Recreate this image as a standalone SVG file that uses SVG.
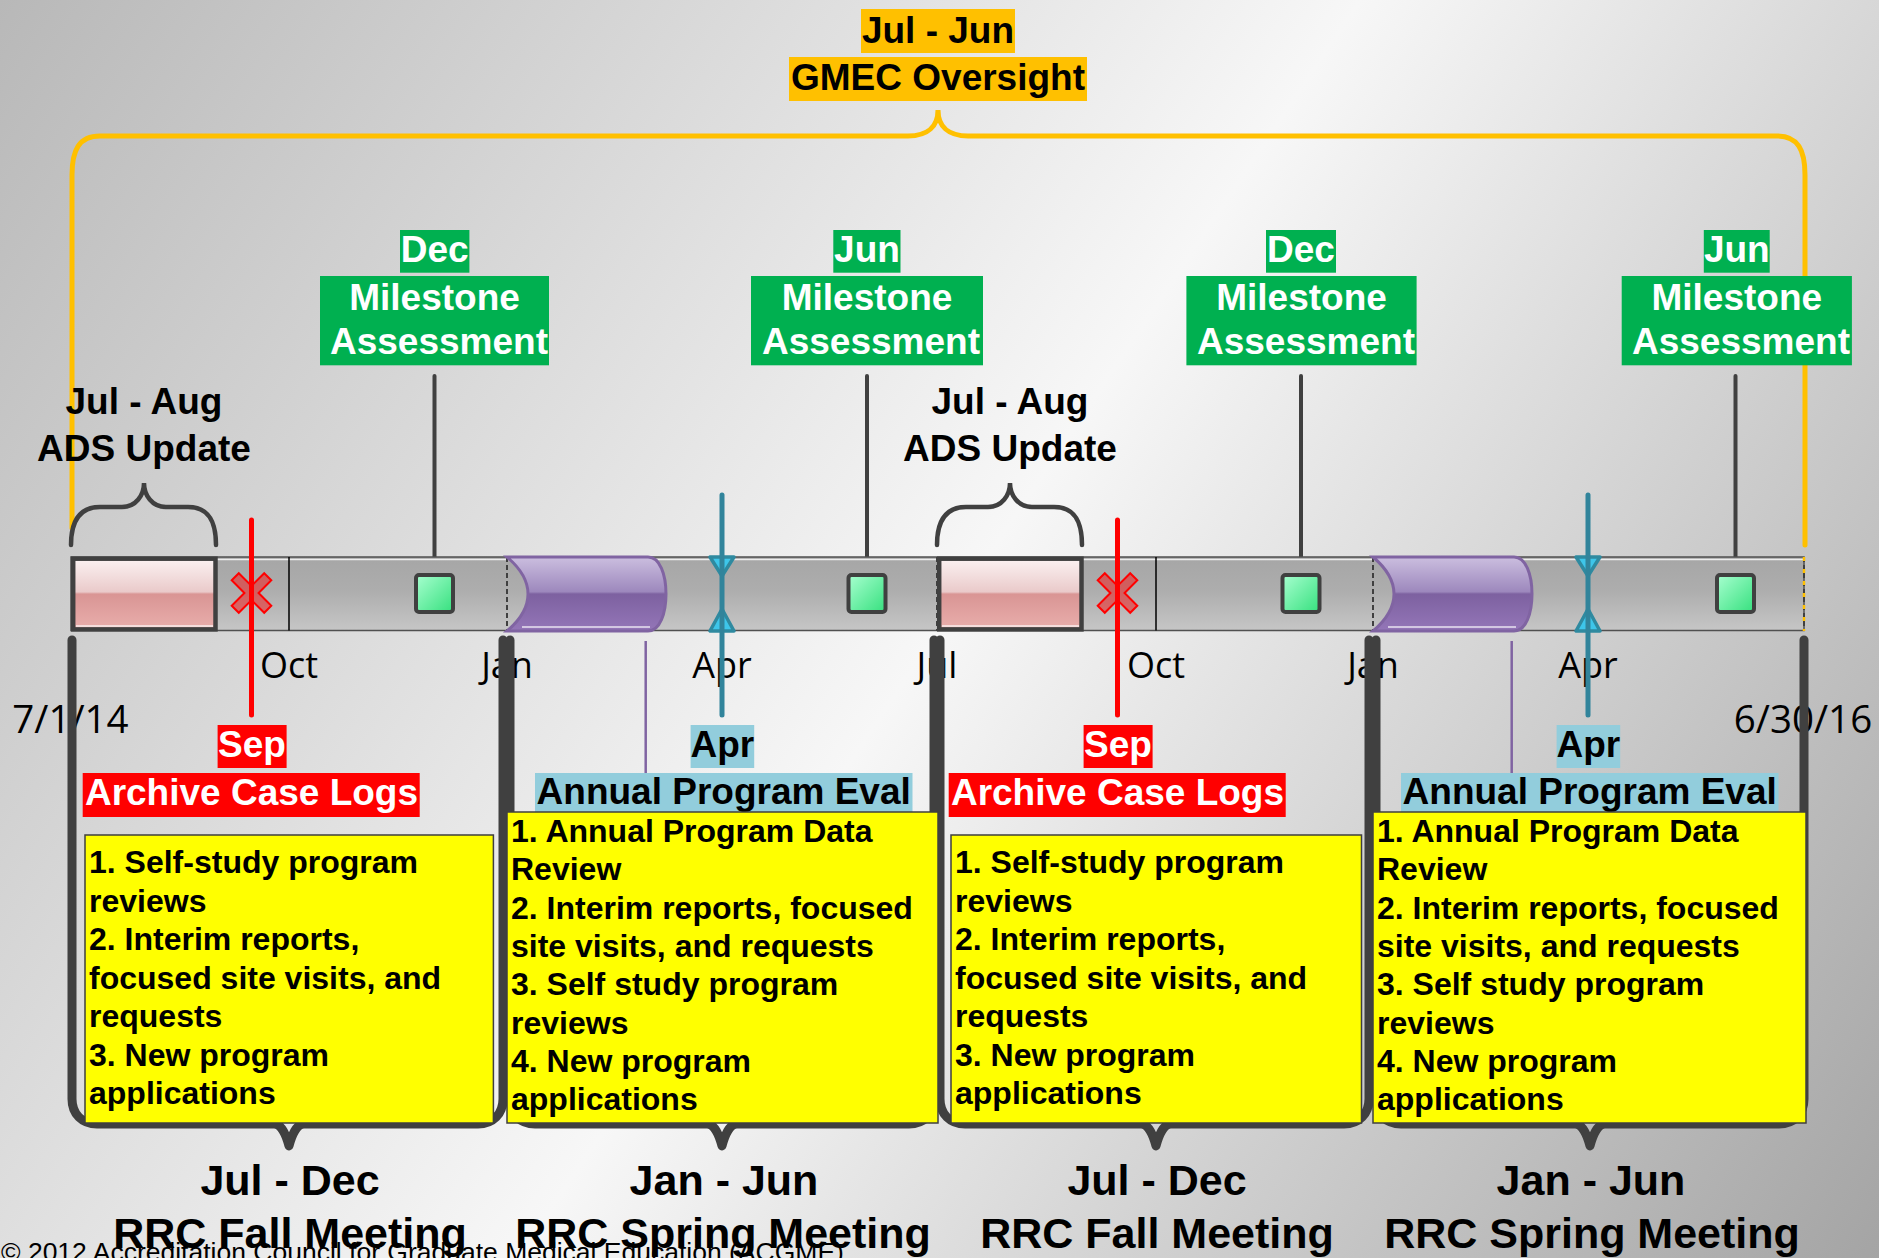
<svg xmlns="http://www.w3.org/2000/svg" width="1879" height="1258" viewBox="0 0 1879 1258">
<defs>
<linearGradient id="bg" gradientUnits="userSpaceOnUse" x1="0" y1="0" x2="1879" y2="1258">
<stop offset="0" stop-color="#b8b8b8"/><stop offset="0.5" stop-color="#f7f7f7"/><stop offset="1" stop-color="#a4a4a4"/>
</linearGradient>
<linearGradient id="barg" x1="0" y1="0" x2="0" y2="1">
<stop offset="0" stop-color="#a6a6a6"/><stop offset="0.45" stop-color="#adadad"/><stop offset="1" stop-color="#c6c6c6"/>
</linearGradient>
<linearGradient id="pink" x1="0" y1="0" x2="0" y2="1">
<stop offset="0" stop-color="#fbf2f2"/><stop offset="0.47" stop-color="#eacaca"/><stop offset="0.5" stop-color="#d99594"/><stop offset="1" stop-color="#e9aeac"/>
</linearGradient>
<linearGradient id="purp" x1="0" y1="0" x2="0" y2="1">
<stop offset="0" stop-color="#cbbedf"/><stop offset="0.47" stop-color="#9d88bd"/><stop offset="0.5" stop-color="#7d61a0"/><stop offset="1" stop-color="#9476b8"/>
</linearGradient>
<linearGradient id="grn" x1="0" y1="0" x2="1" y2="1">
<stop offset="0" stop-color="#a8ffd0"/><stop offset="1" stop-color="#36e07e"/>
</linearGradient>
<style>
.b{font-family:"Liberation Sans",Arial,sans-serif;font-weight:bold}
.c{text-anchor:middle}
.f37{font-size:37px}
.w{fill:#fff}
.k{fill:#000}
.mon{font-family:"Open Sans",sans-serif;font-size:36px;text-anchor:middle;fill:#000}
.date{font-family:"Open Sans",sans-serif;font-size:38.5px;text-anchor:middle;fill:#000}
.yl{font-family:"Liberation Sans",Arial,sans-serif;font-weight:bold;font-size:32px;fill:#000}
.bot{font-family:"Liberation Sans",Arial,sans-serif;font-weight:bold;font-size:43px;fill:#000;text-anchor:middle}
.bk{fill:none;stroke:#404040;stroke-width:9;stroke-linecap:round;stroke-linejoin:round}
.stem{stroke:#404040;stroke-width:4;stroke-linecap:round}
.brace{fill:none;stroke:#404040;stroke-width:4.5;stroke-linecap:round}
.ybox{fill:#ffff00;stroke:#3f3f3f;stroke-width:1.5}
.gbox{fill:#00b050}
.obox{fill:#ffc000}
.rbox{fill:#ff0000}
.abox{fill:#92cddc}
.gsq{fill:url(#grn);stroke:#404040;stroke-width:4}
.pinkb{fill:url(#pink);stroke:#404040;stroke-width:4.5}
.cyl{fill:url(#purp);stroke:#8064a2;stroke-width:3}
.dash{stroke:#404040;stroke-width:2;stroke-dasharray:5 3}
.thin{stroke:#000;stroke-width:1.5}
.redl{stroke:#ff0000;stroke-width:5;stroke-linecap:round}
.xs{fill:#ff0000;fill-opacity:0.45;stroke:#ff0000;stroke-width:2}
.teal{stroke:#31849b;stroke-width:5;stroke-linecap:round}
.tri{fill:#3ec6ea;stroke:#2f8aa0;stroke-width:3.5;stroke-linejoin:round}
.pl{stroke:#8064a2;stroke-width:2.5}
.hl{stroke:#ffffff;stroke-width:1.5;opacity:0.8}
</style>
</defs>
<rect x="0" y="0" width="1879" height="1258" fill="url(#bg)"/>

<g id="connectors">
<path id="gmec-brace" d="M72,528 L72,175 C72,150 79,136 100,136 L908,136 C928,136 938,126 938,110 C938,126 948,136 968,136 L1777,136 C1798,136 1805,150 1805,175 L1805,545" fill="none" stroke="#ffc000" stroke-width="5" stroke-linecap="round"/>
<line class="stem" x1="434.5" y1="376" x2="434.5" y2="575"/>
<line class="stem" x1="867" y1="376" x2="867" y2="575"/>
<line class="stem" x1="1301" y1="376" x2="1301" y2="575"/>
<line class="stem" x1="1735.5" y1="376" x2="1735.5" y2="575"/>
</g>

<g id="timeline">
<rect x="71" y="557" width="1733" height="73.5" fill="url(#barg)" stroke="#505050" stroke-width="1.5"/>
<line class="hl" x1="72" y1="559.5" x2="1803" y2="559.5"/>
<line class="thin" x1="289" y1="557" x2="289" y2="630.5"/>
<line class="thin" x1="1156" y1="557" x2="1156" y2="630.5"/>
<line class="dash" x1="507" y1="557" x2="507" y2="631"/>
<line class="dash" x1="937" y1="557" x2="937" y2="631"/>
<line class="dash" x1="1373" y1="557" x2="1373" y2="631"/>
<line class="dash" x1="1804" y1="557" x2="1804" y2="631"/>
<line x1="1804" y1="557" x2="1804" y2="631" stroke="#ffc000" stroke-width="2.5" stroke-dasharray="4 8"/>
</g>

<g id="ads-block-1">
<rect class="pinkb" x="73.2" y="558.7" width="142.3" height="70.7"/>
<line class="hl" x1="76" y1="626" x2="213" y2="626"/>
</g>
<g id="ads-block-2">
<rect class="pinkb" x="939.2" y="558.7" width="142.3" height="70.7"/>
<line class="hl" x1="942" y1="626" x2="1079" y2="626"/>
</g>

<g id="ape-block-1">
<path class="cyl" d="M507,557 L648,557 C660,557 666,575 666,594 C666,613 660,631 648,631 L507,631 C520,620 528,607 528,594 C528,581 520,568 507,557 Z"/>
<line class="hl" x1="522" y1="627" x2="650" y2="627"/>
</g>
<g id="ape-block-2">
<path class="cyl" d="M1373,557 L1514,557 C1526,557 1532,575 1532,594 C1532,613 1526,631 1514,631 L1373,631 C1386,620 1394,607 1394,594 C1394,581 1386,568 1373,557 Z"/>
<line class="hl" x1="1388" y1="627" x2="1516" y2="627"/>
</g>

<g id="month-labels">
<text class="mon" x="289" y="678">Oct</text>
<text class="mon" x="507" y="678">Jan</text>
<text class="mon" x="722" y="678">Apr</text>
<text class="mon" x="937" y="678">Jul</text>
<text class="mon" x="1156" y="678">Oct</text>
<text class="mon" x="1373" y="678">Jan</text>
<text class="mon" x="1588" y="678">Apr</text>
<text class="date" x="70.5" y="733">7/1/14</text>
<text class="date" x="1803" y="733">6/30/16</text>
</g>

<g id="rrc-brackets">
<path class="bk" d="M72,640 L72,1099 C72,1114 82,1124 97,1124 L274,1124 C281,1124 286,1134 289,1146 C292,1134 297,1124 304,1124 L478,1124 C493,1124 503,1114 503,1099 L503,640"/>
<path class="bk" d="M510,640 L510,1099 C510,1114 520,1124 535,1124 L707,1124 C714,1124 719,1134 722,1146 C725,1134 730,1124 737,1124 L909,1124 C924,1124 934,1114 934,1099 L934,640"/>
<path class="bk" d="M940,640 L940,1099 C940,1114 950,1124 965,1124 L1141,1124 C1148,1124 1153,1134 1156,1146 C1159,1134 1164,1124 1171,1124 L1344,1124 C1359,1124 1369,1114 1369,1099 L1369,640"/>
<path class="bk" d="M1376,640 L1376,1099 C1376,1114 1386,1124 1401,1124 L1575,1124 C1582,1124 1587,1134 1590,1146 C1593,1134 1598,1124 1605,1124 L1779,1124 C1794,1124 1804,1114 1804,1099 L1804,640"/>
</g>

<g id="milestone-1">
<rect class="gsq" x="416" y="575" width="37" height="37" rx="3"/>
<rect class="gbox" x="400" y="230" width="69.4" height="42.7"/>
<rect class="gbox" x="320" y="276" width="229" height="89.3"/>
<text class="b c f37 w" x="434.7" y="262">Dec</text>
<text class="b c f37 w" x="434.5" y="310">Milestone</text>
<text class="b c f37 w" x="439" y="354">Assessment</text>
</g>
<g id="milestone-2">
<rect class="gsq" x="848.5" y="575" width="37" height="37" rx="3"/>
<rect class="gbox" x="833.3" y="230" width="67.2" height="42.7"/>
<rect class="gbox" x="751" y="276" width="232" height="89.3"/>
<text class="b c f37 w" x="867" y="262">Jun</text>
<text class="b c f37 w" x="867" y="310">Milestone</text>
<text class="b c f37 w" x="871" y="354">Assessment</text>
</g>
<g id="milestone-3">
<rect class="gsq" x="1282.5" y="575" width="37" height="37" rx="3"/>
<rect class="gbox" x="1266" y="230" width="70" height="42.7"/>
<rect class="gbox" x="1186.4" y="276" width="230.2" height="89.3"/>
<text class="b c f37 w" x="1301" y="262">Dec</text>
<text class="b c f37 w" x="1301.5" y="310">Milestone</text>
<text class="b c f37 w" x="1306" y="354">Assessment</text>
</g>
<g id="milestone-4">
<rect class="gsq" x="1717" y="575" width="37" height="37" rx="3"/>
<rect class="gbox" x="1703.8" y="230" width="65.9" height="42.7"/>
<rect class="gbox" x="1621.7" y="276" width="230.2" height="89.3"/>
<text class="b c f37 w" x="1736.8" y="262">Jun</text>
<text class="b c f37 w" x="1736.8" y="310">Milestone</text>
<text class="b c f37 w" x="1741" y="354">Assessment</text>
</g>

<g id="ads-update-1">
<path class="brace" d="M71,545 C71,520 80,507 100,507 L122,507 C136,507 144,495 144,483 C144,495 152,507 166,507 L188,507 C208,507 216,520 216,545"/>
<text class="b c f37 k" x="144" y="414">Jul - Aug</text>
<text class="b c f37 k" x="144" y="461">ADS Update</text>
</g>
<g id="ads-update-2">
<path class="brace" d="M937,545 C937,520 946,507 966,507 L988,507 C1002,507 1010,495 1010,483 C1010,495 1018,507 1032,507 L1054,507 C1074,507 1082,520 1082,545"/>
<text class="b c f37 k" x="1010" y="414">Jul - Aug</text>
<text class="b c f37 k" x="1010" y="461">ADS Update</text>
</g>

<g id="archive-1">
<line class="pl" x1="645.7" y1="641" x2="645.7" y2="773"/>
<polygon class="xs" transform="translate(251.5,593) rotate(45)" points="-5,-23 5,-23 5,-5 23,-5 23,5 5,5 5,23 -5,23 -5,5 -23,5 -23,-5 -5,-5"/>
<line class="redl" x1="251.5" y1="520" x2="251.5" y2="715"/>
<rect class="rbox" x="217.6" y="725" width="69" height="43"/>
<rect class="rbox" x="82.7" y="773" width="337" height="44"/>
<text class="b c f37 w" x="252" y="757">Sep</text>
<text class="b c f37 w" x="251.5" y="805">Archive Case Logs</text>
</g>
<g id="archive-2">
<line class="pl" x1="1511.7" y1="641" x2="1511.7" y2="773"/>
<polygon class="xs" transform="translate(1117.5,593) rotate(45)" points="-5,-23 5,-23 5,-5 23,-5 23,5 5,5 5,23 -5,23 -5,5 -23,5 -23,-5 -5,-5"/>
<line class="redl" x1="1117.5" y1="520" x2="1117.5" y2="715"/>
<rect class="rbox" x="1083.6" y="725" width="69" height="43"/>
<rect class="rbox" x="948.7" y="773" width="337" height="44"/>
<text class="b c f37 w" x="1118" y="757">Sep</text>
<text class="b c f37 w" x="1117.5" y="805">Archive Case Logs</text>
</g>

<g id="eval-1">
<path class="tri" d="M710,557 L734,557 L722,576 Z"/>
<path class="tri" d="M710,631 L734,631 L722,609 Z"/>
<line class="teal" x1="722" y1="495" x2="722" y2="715"/>
<rect class="abox" x="690.6" y="725" width="63.6" height="43"/>
<rect class="abox" x="535" y="773" width="377.5" height="40"/>
<text class="b c f37 k" x="722.4" y="757">Apr</text>
<text class="b c f37 k" x="723.7" y="804">Annual Program Eval</text>
</g>
<g id="eval-2">
<path class="tri" d="M1576,557 L1600,557 L1588,576 Z"/>
<path class="tri" d="M1576,631 L1600,631 L1588,609 Z"/>
<line class="teal" x1="1588" y1="495" x2="1588" y2="715"/>
<rect class="abox" x="1556.6" y="725" width="63.6" height="43"/>
<rect class="abox" x="1401" y="773" width="377.5" height="40"/>
<text class="b c f37 k" x="1588.4" y="757">Apr</text>
<text class="b c f37 k" x="1589.7" y="804">Annual Program Eval</text>
</g>

<g id="fall-1">
<rect class="ybox" x="85" y="835" width="408.4" height="288"/>
<text class="yl" x="89"><tspan x="89" y="873">1. Self-study program</tspan><tspan x="89" y="911.5">reviews</tspan><tspan x="89" y="950">2. Interim reports,</tspan><tspan x="89" y="988.5">focused site visits, and</tspan><tspan x="89" y="1027">requests</tspan><tspan x="89" y="1065.5">3. New program</tspan><tspan x="89" y="1104">applications</tspan></text>
<text class="bot" x="290" y="1195">Jul - Dec</text>
<text class="bot" x="290" y="1248">RRC Fall Meeting</text>
</g>
<g id="spring-1">
<rect class="ybox" x="507" y="812" width="431" height="311"/>
<text class="yl" x="511"><tspan x="511" y="842">1. Annual Program Data</tspan><tspan x="511" y="880.3">Review</tspan><tspan x="511" y="918.6">2. Interim reports, focused</tspan><tspan x="511" y="956.9">site visits, and requests</tspan><tspan x="511" y="995.2">3. Self study program</tspan><tspan x="511" y="1033.5">reviews</tspan><tspan x="511" y="1071.8">4. New program</tspan><tspan x="511" y="1110.1">applications</tspan></text>
<text class="bot" x="724" y="1195">Jan - Jun</text>
<text class="bot" x="723" y="1248">RRC Spring Meeting</text>
</g>
<g id="fall-2">
<rect class="ybox" x="951" y="835" width="410.5" height="288"/>
<text class="yl" x="955"><tspan x="955" y="873">1. Self-study program</tspan><tspan x="955" y="911.5">reviews</tspan><tspan x="955" y="950">2. Interim reports,</tspan><tspan x="955" y="988.5">focused site visits, and</tspan><tspan x="955" y="1027">requests</tspan><tspan x="955" y="1065.5">3. New program</tspan><tspan x="955" y="1104">applications</tspan></text>
<text class="bot" x="1157" y="1195">Jul - Dec</text>
<text class="bot" x="1157" y="1248">RRC Fall Meeting</text>
</g>
<g id="spring-2">
<rect class="ybox" x="1373" y="812" width="433" height="311"/>
<text class="yl" x="1377"><tspan x="1377" y="842">1. Annual Program Data</tspan><tspan x="1377" y="880.3">Review</tspan><tspan x="1377" y="918.6">2. Interim reports, focused</tspan><tspan x="1377" y="956.9">site visits, and requests</tspan><tspan x="1377" y="995.2">3. Self study program</tspan><tspan x="1377" y="1033.5">reviews</tspan><tspan x="1377" y="1071.8">4. New program</tspan><tspan x="1377" y="1110.1">applications</tspan></text>
<text class="bot" x="1591" y="1195">Jan - Jun</text>
<text class="bot" x="1592" y="1248">RRC Spring Meeting</text>
</g>

<g id="gmec-oversight">
<rect class="obox" x="861" y="9" width="154" height="44"/>
<rect class="obox" x="789" y="57" width="298" height="44"/>
<text class="b c f37 k" x="938" y="43">Jul - Jun</text>
<text class="b c f37 k" x="938" y="90">GMEC Oversight</text>
</g>

<text id="copyright" x="1" y="1261" font-family="'Liberation Sans',Arial,sans-serif" font-size="26.5" fill="#000">© 2012 Accreditation Council for Graduate Medical Education (ACGME)</text>
</svg>
